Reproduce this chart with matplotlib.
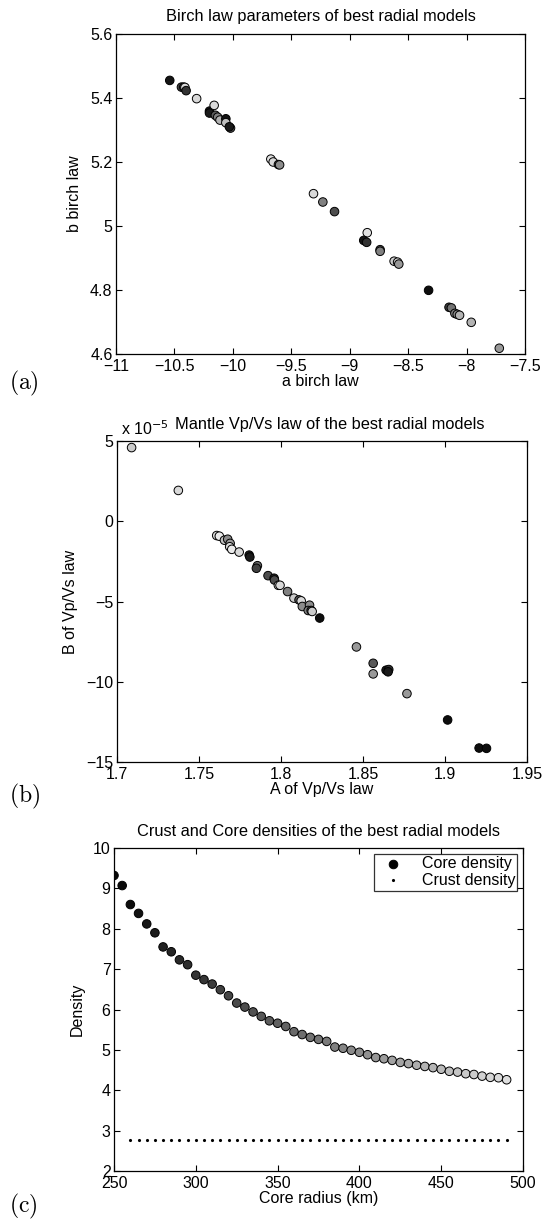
import numpy as np
import matplotlib
matplotlib.use('Agg')
import matplotlib.pyplot as plt
from matplotlib.ticker import FuncFormatter

plt.rcParams['font.family'] = ['Liberation Sans', 'DejaVu Sans']
plt.rcParams['mathtext.fontset'] = 'cm'

# (a) Birch law parameters
a_birch = [-10.54, -10.44, -10.42, -10.41, -10.40, -10.31, -10.20, -10.20, -10.16, -10.15,
           -10.13, -10.11, -10.06, -10.06, -10.02, -10.03, -9.675, -9.655, -9.61, -9.60,
           -9.31, -9.23, -9.13, -8.85, -8.88, -8.855, -8.74, -8.74, -8.62, -8.59,
           -8.58, -8.325, -8.15, -8.13, -8.10, -8.08, -8.06, -7.96, -7.72]
b_birch = [5.455, 5.434, 5.434, 5.433, 5.423, 5.398, 5.359, 5.353, 5.377, 5.346,
           5.340, 5.331, 5.335, 5.323, 5.306, 5.310, 5.209, 5.200, 5.192, 5.191,
           5.101, 5.075, 5.045, 4.979, 4.955, 4.949, 4.926, 4.921, 4.890, 4.887,
           4.881, 4.799, 4.746, 4.744, 4.727, 4.724, 4.721, 4.699, 4.618]
shade_a = [0.08, 0.25, 0.3, 0.85, 0.2, 0.85, 0.08, 0.1, 0.85, 0.35,
           0.5, 0.7, 0.08, 0.75, 0.35, 0.1, 0.88, 0.85, 0.35, 0.55,
           0.85, 0.5, 0.3, 0.88, 0.08, 0.2, 0.3, 0.5, 0.8, 0.85,
           0.6, 0.05, 0.25, 0.45, 0.5, 0.55, 0.7, 0.7, 0.6]

# (b) Mantle Vp/Vs law (B in units of 1e-5)
A_vpvs = [1.7089, 1.7374, 1.7608, 1.7624, 1.7655, 1.7675, 1.7690, 1.7687, 1.7700, 1.7745,
          1.7806, 1.7810, 1.7856, 1.7850, 1.7921, 1.7958, 1.7960, 1.7984, 1.7994, 1.8040,
          1.8079, 1.8110, 1.8123, 1.8130, 1.8174, 1.8166, 1.8184, 1.8190, 1.8236, 1.8460,
          1.8562, 1.8562, 1.8641, 1.8657, 1.8653, 1.8768, 1.9016, 1.9208, 1.9253]
B_vpvs_e5 = [4.59, 1.92, -0.89, -0.93, -1.18, -1.12, -1.38, -1.59, -1.75, -1.92,
             -2.11, -2.23, -2.77, -2.93, -3.39, -3.55, -3.66, -3.99, -3.99, -4.38,
             -4.79, -4.90, -4.96, -5.31, -5.23, -5.56, -5.56, -5.62, -6.03, -7.83,
             -8.85, -9.51, -9.28, -9.24, -9.38, -10.74, -12.38, -14.13, -14.15]
shade_b = [0.8, 0.85, 0.85, 0.92, 0.75, 0.55, 0.6, 0.85, 0.92, 0.85,
           0.1, 0.1, 0.4, 0.25, 0.3, 0.15, 0.3, 0.85, 0.85, 0.5,
           0.8, 0.35, 0.85, 0.55, 0.55, 0.5, 0.3, 0.8, 0.05, 0.6,
           0.35, 0.6, 0.1, 0.2, 0.1, 0.6, 0.05, 0.05, 0.05]

# (c) Core and crust densities
core_radius = [250, 255, 260, 265, 270, 275, 280, 285, 290, 295,
               300, 305, 310, 315, 320, 325, 330, 335, 340, 345,
               350, 355, 360, 365, 370, 375, 380, 385, 390, 395,
               400, 405, 410, 415, 420, 425, 430, 435, 440, 445,
               450, 455, 460, 465, 470, 475, 480, 485, 490]
core_density = [9.32, 9.07, 8.60, 8.38, 8.12, 7.90, 7.55, 7.43, 7.23, 7.11,
                6.85, 6.74, 6.63, 6.49, 6.34, 6.16, 6.06, 5.94, 5.83, 5.72,
                5.66, 5.58, 5.45, 5.38, 5.31, 5.26, 5.21, 5.07, 5.04, 4.99,
                4.94, 4.88, 4.81, 4.78, 4.74, 4.69, 4.66, 4.62, 4.59, 4.56,
                4.52, 4.47, 4.45, 4.41, 4.39, 4.35, 4.32, 4.31, 4.26]
shade_c = [0.02, 0.04, 0.05, 0.07, 0.09, 0.11, 0.13, 0.14, 0.16, 0.18,
           0.2, 0.21, 0.23, 0.25, 0.27, 0.29, 0.3, 0.32, 0.34, 0.36,
           0.38, 0.39, 0.41, 0.43, 0.45, 0.46, 0.48, 0.5, 0.52, 0.54,
           0.55, 0.57, 0.59, 0.61, 0.63, 0.64, 0.66, 0.68, 0.7, 0.71,
           0.73, 0.75, 0.77, 0.79, 0.8, 0.82, 0.84, 0.86, 0.87]
crust_radius = [260, 265, 270, 275, 280, 285, 290, 295, 300, 305,
                310, 315, 320, 325, 330, 335, 340, 345, 350, 355,
                360, 365, 370, 375, 380, 385, 390, 395, 400, 405,
                410, 415, 420, 425, 430, 435, 440, 445, 450, 455,
                460, 465, 470, 475, 480, 485, 490]
crust_density = [2.76] * len(crust_radius)

FS = 11.5
fig = plt.figure(figsize=(5.45, 12.28), dpi=100)
W = 545.0
H = 1228.0

# MATLAB-like short numbers with a real minus sign
gfmt = FuncFormatter(lambda v, pos: ('%g' % round(v, 6)).replace('-', '\u2212'))


def make_axes(left, top, right, bottom):
    ax = fig.add_axes([left / W, 1 - bottom / H, (right - left) / W, (bottom - top) / H])
    ax.tick_params(direction='in', top=True, right=True, labelsize=FS, length=4, width=0.8)
    ax.tick_params(axis='x', pad=3.5)
    ax.tick_params(axis='y', pad=2.5)
    for s in ax.spines.values():
        s.set_linewidth(0.9)
    ax.xaxis.set_major_formatter(gfmt)
    ax.yaxis.set_major_formatter(gfmt)
    return ax


def gray(v):
    return [(g, g, g) for g in v]


# panel (a)
ax1 = make_axes(116, 34, 525, 354)
ax1.scatter(a_birch, b_birch, s=38, c=gray(shade_a), edgecolors='black', linewidths=0.7, zorder=3)
ax1.set_xlim(-11, -7.5)
ax1.set_ylim(4.6, 5.6)
ax1.set_xticks(np.arange(-11, -7.49, 0.5))
ax1.set_yticks(np.arange(4.6, 5.61, 0.2))
ax1.set_xlabel('a birch law', fontsize=FS, labelpad=0)
ax1.set_ylabel('b birch law', fontsize=FS, labelpad=6)
ax1.set_title('Birch law parameters of best radial models', fontsize=11.8, pad=9)

# panel (b)
ax2 = make_axes(117, 441, 527, 762)
ax2.scatter(A_vpvs, B_vpvs_e5, s=38, c=gray(shade_b), edgecolors='black', linewidths=0.7, zorder=3)
ax2.set_xlim(1.7, 1.95)
ax2.set_ylim(-15, 5)
ax2.set_xticks([1.7, 1.75, 1.8, 1.85, 1.9, 1.95])
ax2.set_yticks([-15, -10, -5, 0, 5])
ax2.set_xlabel('A of Vp/Vs law', fontsize=FS, labelpad=0)
ax2.set_ylabel('B of Vp/Vs law', fontsize=FS, labelpad=6)
ax2.set_title('Mantle Vp/Vs law of the best radial models', fontsize=11.8, pad=9, x=0.52)
ax2.text(0.01, 1.008, r'x 10$^{-5}$', transform=ax2.transAxes, fontsize=FS,
         ha='left', va='bottom', math_fontfamily='dejavusans')

# panel (c)
ax3 = make_axes(114, 848, 523, 1171)
ax3.scatter(core_radius, core_density, s=38, c=gray(shade_c), edgecolors='black',
            linewidths=0.7, zorder=3, label='Core density')
ax3.plot(crust_radius, crust_density, linestyle='none', marker='.', markersize=2.5,
         color='black', label='Crust density')
ax3.set_xlim(250, 500)
ax3.set_ylim(2, 10)
ax3.set_xticks([250, 300, 350, 400, 450, 500])
ax3.set_yticks(range(2, 11))
ax3.set_xlabel('Core radius (km)', fontsize=FS, labelpad=0)
ax3.set_ylabel('Density', fontsize=FS, labelpad=6)
ax3.set_title('Crust and Core densities of the best radial models', fontsize=11.8, pad=9)
leg = ax3.legend(loc='upper right', fontsize=FS, frameon=True, fancybox=False,
                 edgecolor='black', borderaxespad=0.35, handletextpad=0.8,
                 borderpad=0.15, labelspacing=0.15, handlelength=2.0)
leg.get_frame().set_linewidth(0.9)
leg.legend_handles[0].set_facecolor('black')

for lab, y in [('(a)', 383), ('(b)', 796), ('(c)', 1206)]:
    fig.text(9 / W, 1 - y / H, r'$\mathrm{' + lab + '}$', fontsize=17, ha='left', va='center')

fig.savefig('out.png', dpi=100)
